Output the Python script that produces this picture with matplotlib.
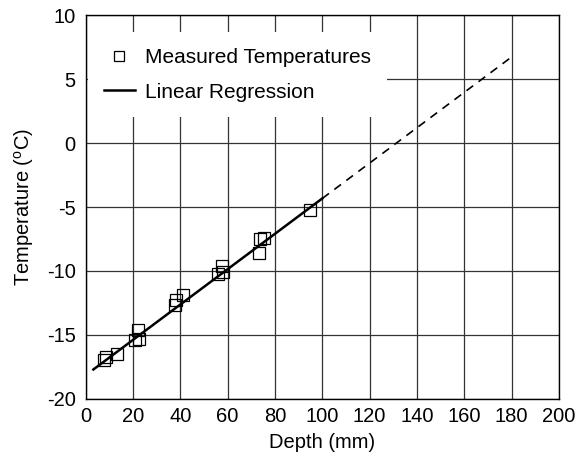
import matplotlib
matplotlib.use("Agg")
import matplotlib.pyplot as plt
import numpy as np

plt.rcParams['font.family'] = ['Liberation Sans', 'DejaVu Sans']
plt.rcParams['mathtext.fontset'] = 'custom'
plt.rcParams['mathtext.rm'] = 'Liberation Sans'
plt.rcParams['mathtext.it'] = 'Liberation Sans'
plt.rcParams['axes.unicode_minus'] = False

# Measured data
depth_mm = [7.8, 8.6, 13.3, 20.9, 22.5, 22.2, 38.1, 37.8, 41.3, 55.9, 57.7, 58.1, 73.6, 75.3, 73.2, 94.7]
temp_c = [-17.0, -16.7, -16.5, -15.4, -15.3, -14.6, -12.3, -12.7, -11.9, -10.2, -9.6, -10.1, -7.5, -7.45, -8.6, -5.2]

# Linear regression (slope, intercept) and ranges
reg_slope = 0.1383
reg_intercept = -18.16
solid_range = [3.3, 100.0]
dashed_range = [100.0, 180.5]

x_ticks = [0, 20, 40, 60, 80, 100, 120, 140, 160, 180, 200]
y_ticks = [-20, -15, -10, -5, 0, 5, 10]

FS = 14.5
LFS = 15

fig = plt.figure(figsize=(5.86, 4.59), dpi=100)
ax = fig.add_axes([0.146, 0.131, 0.808, 0.836])

ax.set_xlim(0, 200)
ax.set_ylim(-20, 10)
ax.set_xticks(x_ticks)
ax.set_yticks(y_ticks)
ax.grid(True, color='#333333', linewidth=0.9)
ax.set_axisbelow(True)
ax.tick_params(length=0, labelsize=FS)
ax.tick_params(axis='y', pad=7)
ax.tick_params(axis='x', pad=6)

xs = np.array(solid_range)
ax.plot(xs, reg_slope * xs + reg_intercept, color='black', linewidth=1.8, label='Linear Regression', zorder=3)
xd = np.array(dashed_range)
ax.plot(xd, reg_slope * xd + reg_intercept, color='black', linewidth=1.2, linestyle=(0, (5, 4)), zorder=3)

ax.plot(depth_mm, temp_c, linestyle='none', marker='s', markersize=9, markerfacecolor='none',
        markeredgecolor='black', markeredgewidth=0.9, label='Measured Temperatures', zorder=4)

handles, labels = ax.get_legend_handles_labels()
leg = ax.legend(handles[::-1], labels[::-1], loc='upper left', bbox_to_anchor=(0.005, 0.955),
                frameon=True, fontsize=LFS, markerscale=0.75, handlelength=1.5, handletextpad=0.5,
                borderaxespad=0.0, borderpad=0.75, labelspacing=0.75, fancybox=False)
leg.get_frame().set_edgecolor('none')
leg.get_frame().set_facecolor('white')
leg.get_frame().set_alpha(1)

for s in ax.spines.values():
    s.set_linewidth(1.0)

ax.set_xlabel('Depth (mm)', fontsize=FS, labelpad=5)
ax.set_ylabel(r'Temperature ($^{\rm o}$C)', fontsize=FS, labelpad=8)

fig.savefig('out.png', dpi=100)
